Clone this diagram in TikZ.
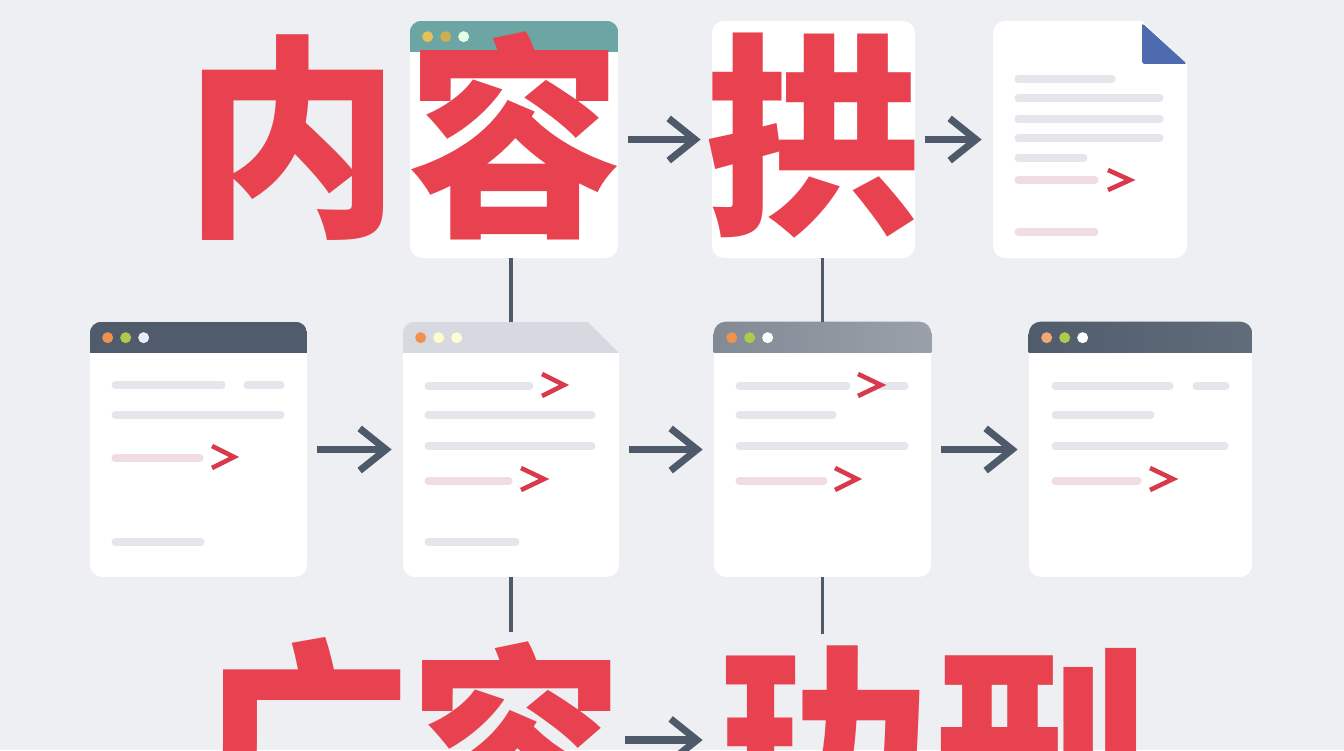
\documentclass[tikz,border=0pt]{standalone}
\usepackage{fontspec}
\newfontfamily\cjk{Noto Sans CJK SC}
\usetikzlibrary{arrows.meta,positioning}

\definecolor{bgcol}{HTML}{EDEFF3}
\definecolor{hanred}{HTML}{E8414F}
\definecolor{slate}{HTML}{4E5969}
\definecolor{linegray}{HTML}{E4E6EB}
\definecolor{linepink}{HTML}{F1DCE1}
\definecolor{chevred}{HTML}{D83A4B}
\definecolor{hdrteal}{HTML}{6BA6A4}
\definecolor{hdrdark}{HTML}{505C6C}
\definecolor{hdrlight}{HTML}{D6D9DF}
\definecolor{docblue}{HTML}{4D6BAE}
\definecolor{dotorange}{HTML}{F0914E}
\definecolor{dotgreen}{HTML}{AECA4A}
\definecolor{dotyellow}{HTML}{E6C158}

% window bar on top of a card, clipped to its rounded shape
\newcommand{\winbar}[2]{%
  \begin{scope}
    \clip[rounded corners=0.24cm] (#1.south west) rectangle (#1.north east);
    \path[#2] (#1.north west) rectangle ([yshift=-0.62cm]#1.north east);
  \end{scope}}
\newcommand{\windots}[4]{%
  \foreach \dc [count=\di] in {#2,#3,#4}
    \fill[\dc] ([xshift=\di*0.36cm,yshift=-0.32cm]#1.north west) circle (0.11cm);}

\begin{document}
\begin{tikzpicture}
  [x=0.02cm,y=-0.02cm,
    card/.style={rectangle,rounded corners=0.24cm,fill=white,draw=none,
      inner sep=0,minimum height=4.74cm},
    glyph/.style={font=\cjk\bfseries\fontsize{123pt}{123pt}\selectfont,
      text=hanred,inner sep=0},
    flow/.style={draw=slate,line width=4pt,
      -{Straight Barb[length=15pt,width=24pt]},
      shorten <=0.2cm,shorten >=0.22cm},
    link/.style={draw=slate,line width=2.2pt},
    bar/.style={draw=linegray,line width=4pt,line cap=round},
    pbar/.style={bar,draw=linepink},
    chev/.style={draw=chevred,line width=2.6pt}]
  \clip (0,0) rectangle (1344,750);
  \fill[bgcol] (0,0) rectangle (1344,750);

  % top row
  \node[card,minimum width=4.16cm] (cRong) at (514,139.5) {};
  \node[card,minimum width=4.06cm] (cGong) at (813.5,139.5) {};
  \node[card,minimum width=3.88cm] (cDoc) at (1090,139.5) {};
  % middle row
  \node[card,minimum width=4.34cm,minimum height=5.1cm] (cA) at (198.5,449.5) {};
  \node[card,minimum width=4.32cm,minimum height=5.1cm] (cB) at (511,449.5) {};
  \node[card,minimum width=4.34cm,minimum height=5.1cm] (cC) at (822.5,449.5) {};
  \node[card,minimum width=4.46cm,minimum height=5.1cm] (cD) at (1140.5,449.5) {};

  \winbar{cRong}{fill=hdrteal}
  \windots{cRong}{dotyellow}{dotyellow!90!black}{green!10}
  \winbar{cA}{fill=hdrdark}
  \windots{cA}{dotorange}{dotgreen}{blue!8}
  \winbar{cB}{fill=hdrlight}
  \windots{cB}{dotorange}{yellow!20}{yellow!15}
  \fill[bgcol] (587,321) -- (620,321) -- (620,354) -- cycle;
  \winbar{cC}{left color=hdrdark!72,right color=hdrdark!58}
  \windots{cC}{dotorange}{dotgreen}{white}
  \winbar{cD}{left color=hdrdark,right color=hdrdark!90}
  \windots{cD}{dotorange!80}{dotgreen}{white}

  % folded corner of the document
  \fill[bgcol] (1141,20) -- (1188,20) -- (1188,65) -- cycle;
  \fill[docblue,rounded corners=1.5pt] (1142,23) -- (1187,64) -- (1142,64) -- cycle;

  % text lines
  \draw[bar] (1018,79) -- (1112,79);
  \foreach \y in {98,119,138} \draw[bar] (1018,\y) -- (1160,\y);
  \draw[bar] (1018,158) -- (1084,158);
  \draw[pbar] (1018,180) -- (1095,180);
  \draw[chev] (1108,170) -- (1130,180) -- (1108,190);
  \draw[pbar] (1018,232) -- (1095,232);

  \draw[bar] (115,385) -- (222,385);
  \draw[bar] (247,385) -- (281,385);
  \draw[bar] (115,415) -- (281,415);
  \draw[pbar] (115,458) -- (200,458);
  \draw[chev] (212,446) -- (234,457) -- (212,468);
  \draw[bar] (115,542) -- (201,542);

  \draw[bar] (428,386) -- (530,386);
  \draw[chev] (542,374) -- (564,385) -- (542,396);
  \foreach \y in {415,446} \draw[bar] (428,\y) -- (592,\y);
  \draw[pbar] (428,481) -- (509,481);
  \draw[chev] (521,468) -- (544,479) -- (521,490);
  \draw[bar] (428,542) -- (516,542);

  \draw[bar] (739,386) -- (847,386);
  \draw[bar] (880,386) -- (905,386);
  \draw[chev] (858,374) -- (881,385) -- (858,396);
  \draw[bar] (739,415) -- (833,415);
  \draw[bar] (739,446) -- (905,446);
  \draw[pbar] (739,481) -- (824,481);
  \draw[chev] (835,468) -- (857,479) -- (835,490);

  \draw[bar] (1055,386) -- (1170,386);
  \draw[bar] (1196,386) -- (1226,386);
  \draw[bar] (1055,415) -- (1151,415);
  \draw[bar] (1055,446) -- (1225,446);
  \draw[pbar] (1055,481) -- (1138,481);
  \draw[chev] (1150,468) -- (1173,479) -- (1150,490);

  % big characters
  \node[glyph] (tNei) at (292.5,137.5) {内};
  \node[glyph] (tRong) at (515,136) {容};
  \node[glyph] (tGong) at (814,136) {拱};
  \node[glyph] (bGuang) at (305,742) {广};
  \node[glyph] (bRong) at (517,746) {容};
  \node[glyph] (bLe) at (822,748) {玏};
  \node[glyph] (bXing) at (1043,750) {刑};

  % connectors
  \foreach \from/\to in {cRong/cGong,cGong/cDoc,cA/cB,cB/cC,cC/cD}
    \draw[flow] (\from) -- (\to);
  \coordinate (aY) at (0,740);
  \draw[flow,shorten <=0pt] (bRong.east |- aY) -- (bLe.west |- aY);
  \draw[link] (cB.north |- cRong.south) -- (cB.north);
  \draw[link] (cC.north |- cGong.south) -- (cC.north);
  \coordinate (eB) at (510,632);
  \coordinate (eC) at (820,634);
  \draw[link] (cB.south) -- (cB.south |- eB);
  \draw[link] (cC.south) -- (cC.south |- eC);
\end{tikzpicture}
\end{document}
